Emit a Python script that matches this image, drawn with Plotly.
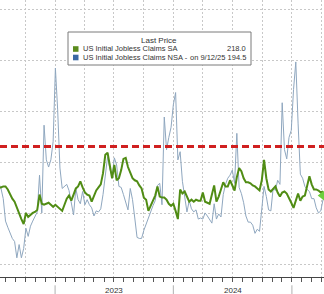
import pandas as pd
import plotly.graph_objects as go

# ---- data (thousands of claims, weekly) ----
start_date = "2022-07-11"
sa_claims = [226, 226, 227, 227, 224, 219, 215, 212, 206, 199, 195, 190, 201, 197, 199, 201, 202, 204, 219, 210,
             209, 210, 211, 209, 207, 209, 207, 205, 203, 209, 215, 218, 213, 219, 225, 227, 232, 226, 221, 219,
             218, 212, 218, 223, 226, 229, 240, 258, 260, 248, 235, 248, 233, 235, 243, 254, 255, 246, 241, 235,
             233, 232, 228, 225, 216, 214, 203, 208, 212, 218, 227, 217, 216, 216, 214, 210, 208, 210, 203, 195,
             224, 220, 222, 216, 212, 214, 212, 214, 213, 213, 221, 212, 211, 210, 219, 228, 212, 217, 224, 231,
             227, 227, 233, 228, 223, 236, 245, 242, 235, 231, 231, 230, 228, 227, 225, 223, 233, 253, 235, 224,
             222, 225, 227, 221, 217, 221, 222, 220, 216, 211, 206, 213, 220, 213, 217, 218, 228, 237, 229, 224,
             224, 223, 221, 222]
nsa_claims = [230, 225, 215, 193, 187, 182, 176, 173, 157, 170, 157, 166, 186, 178, 188, 193, 198, 202, 238, 201,
              287, 253, 246, 253, 271, 343, 302, 245, 225, 227, 229, 223, 212, 199, 225, 214, 210, 222, 209, 214,
              209, 206, 198, 203, 202, 205, 219, 241, 256, 244, 237, 255, 248, 227, 226, 219, 210, 204, 225, 214,
              196, 177, 176, 176, 184, 190, 197, 204, 208, 213, 228, 230, 209, 295, 263, 275, 285, 307, 319, 253,
              261, 232, 219, 202, 213, 205, 202, 204, 195, 196, 195, 201, 198, 194, 191, 210, 195, 200, 197, 219,
              229, 235, 238, 243, 230, 279, 226, 220, 211, 198, 192, 192, 189, 181, 185, 183, 207, 227, 217, 204,
              203, 225, 223, 233, 229, 309, 263, 254, 275, 282, 322, 349, 289, 239, 235, 227, 224, 222, 215, 215,
              206, 201, 203, 214]
threshold = 266
last_sa = 218.0
last_nsa = 194.5
last_date_label = "9/12/25"
series_names = ["US Initial Jobless Claims SA", "US Initial Jobless Claims NSA -"]
year_labels = ["2022", "2023", "2024", "2025"]
x_range = ["2022-07-15", "2025-04-10"]
marker_date = "2025-04-06"

dates = pd.date_range(start_date, periods=len(sa_claims), freq="7D")
quarter_ticks = pd.date_range("2022-10-01", "2025-04-01", freq="QS")
year_starts = pd.date_range("2023-01-01", "2025-01-01", freq="YS")

GREEN = "#508c14"
NSA_BLUE = "#8fa7bf"
FONT = "Liberation Sans, Arial, sans-serif"
LEG_SIZE = 7.5

fig = go.Figure()
fig.add_trace(go.Scatter(x=dates, y=nsa_claims, mode="lines",
                         line=dict(color=NSA_BLUE, width=1), showlegend=False))
fig.add_trace(go.Scatter(x=dates, y=sa_claims, mode="lines",
                         line=dict(color=GREEN, width=2), showlegend=False))
fig.add_trace(go.Scatter(x=[marker_date], y=[last_sa], mode="markers",
                         marker=dict(symbol="triangle-left", size=10, color="#6ccf3c"),
                         showlegend=False))

# threshold dashed line
fig.add_hline(y=threshold, line=dict(color="#d02020", width=3, dash="7px,4px"))

# year separators below axis
for d in year_starts:
    fig.add_shape(type="line", xref="x", yref="paper", x0=d, x1=d, y0=-0.03, y1=-0.08,
                  line=dict(color="#b0b0b0", width=1))

# year labels
for lab in year_labels:
    fig.add_annotation(x=f"{lab}-07-02", y=0, xref="x", yref="paper", yanchor="top", yshift=-7,
                       text=lab, showarrow=False, font=dict(size=8, color="#333", family=FONT))

# legend box
H = 277.0
def py(px):
    return 1 - px / H

fig.add_shape(type="rect", xref="paper", yref="paper", x0=68/324, x1=251/324, y0=py(65), y1=py(32),
              line=dict(color="#7a7a7a", width=1), fillcolor="white", layer="above")
fig.add_annotation(x=159/324, y=py(40), xref="paper", yref="paper", yanchor="middle",
                   text="Last Price", showarrow=False,
                   font=dict(size=LEG_SIZE + 0.5, color="#333", family=FONT))
rows = [(49, "#5b8c1e", series_names[0], f"{last_sa:.1f}"),
        (57.5, "#3a68a4", series_names[1], f"on {last_date_label} {last_nsa:.1f}")]
for ypx, col, name, val in rows:
    fig.add_shape(type="rect", xref="paper", yref="paper", x0=73/324, x1=78.5/324,
                  y0=py(ypx + 2.8), y1=py(ypx - 2.8), fillcolor=col, line=dict(width=0), layer="above")
    fig.add_annotation(x=80.5/324, y=py(ypx), xref="paper", yref="paper", xanchor="left", yanchor="middle",
                       text=name, showarrow=False, font=dict(size=LEG_SIZE, color="#333", family=FONT))
    fig.add_annotation(x=248/324, y=py(ypx), xref="paper", yref="paper", xanchor="right", yanchor="middle",
                       text=val, showarrow=False, font=dict(size=LEG_SIZE, color="#333", family=FONT))

fig.update_layout(
    width=324, height=294, margin=dict(l=0, r=0, t=0, b=17),
    paper_bgcolor="white", plot_bgcolor="white",
    xaxis=dict(range=x_range, tickvals=list(quarter_ticks), showticklabels=False,
               ticks="outside", ticklen=4, tickcolor="#555",
               showgrid=True, gridcolor="#c8c8c8", griddash="1.5px,2.5px", gridwidth=1,
               minor=dict(dtick="M1", tick0="2022-01-01", ticks="outside", ticklen=4,
                          tickcolor="#555", showgrid=False),
               showline=True, linecolor="#444", linewidth=1, zeroline=False),
    yaxis=dict(range=[138.2, 409.7], tickvals=[150, 200, 250, 300, 350, 400], showticklabels=False,
               showgrid=True, gridcolor="#c8c8c8", griddash="1.5px,2.5px", gridwidth=1,
               zeroline=False, showline=False),
)

fig.write_html("out.html")
